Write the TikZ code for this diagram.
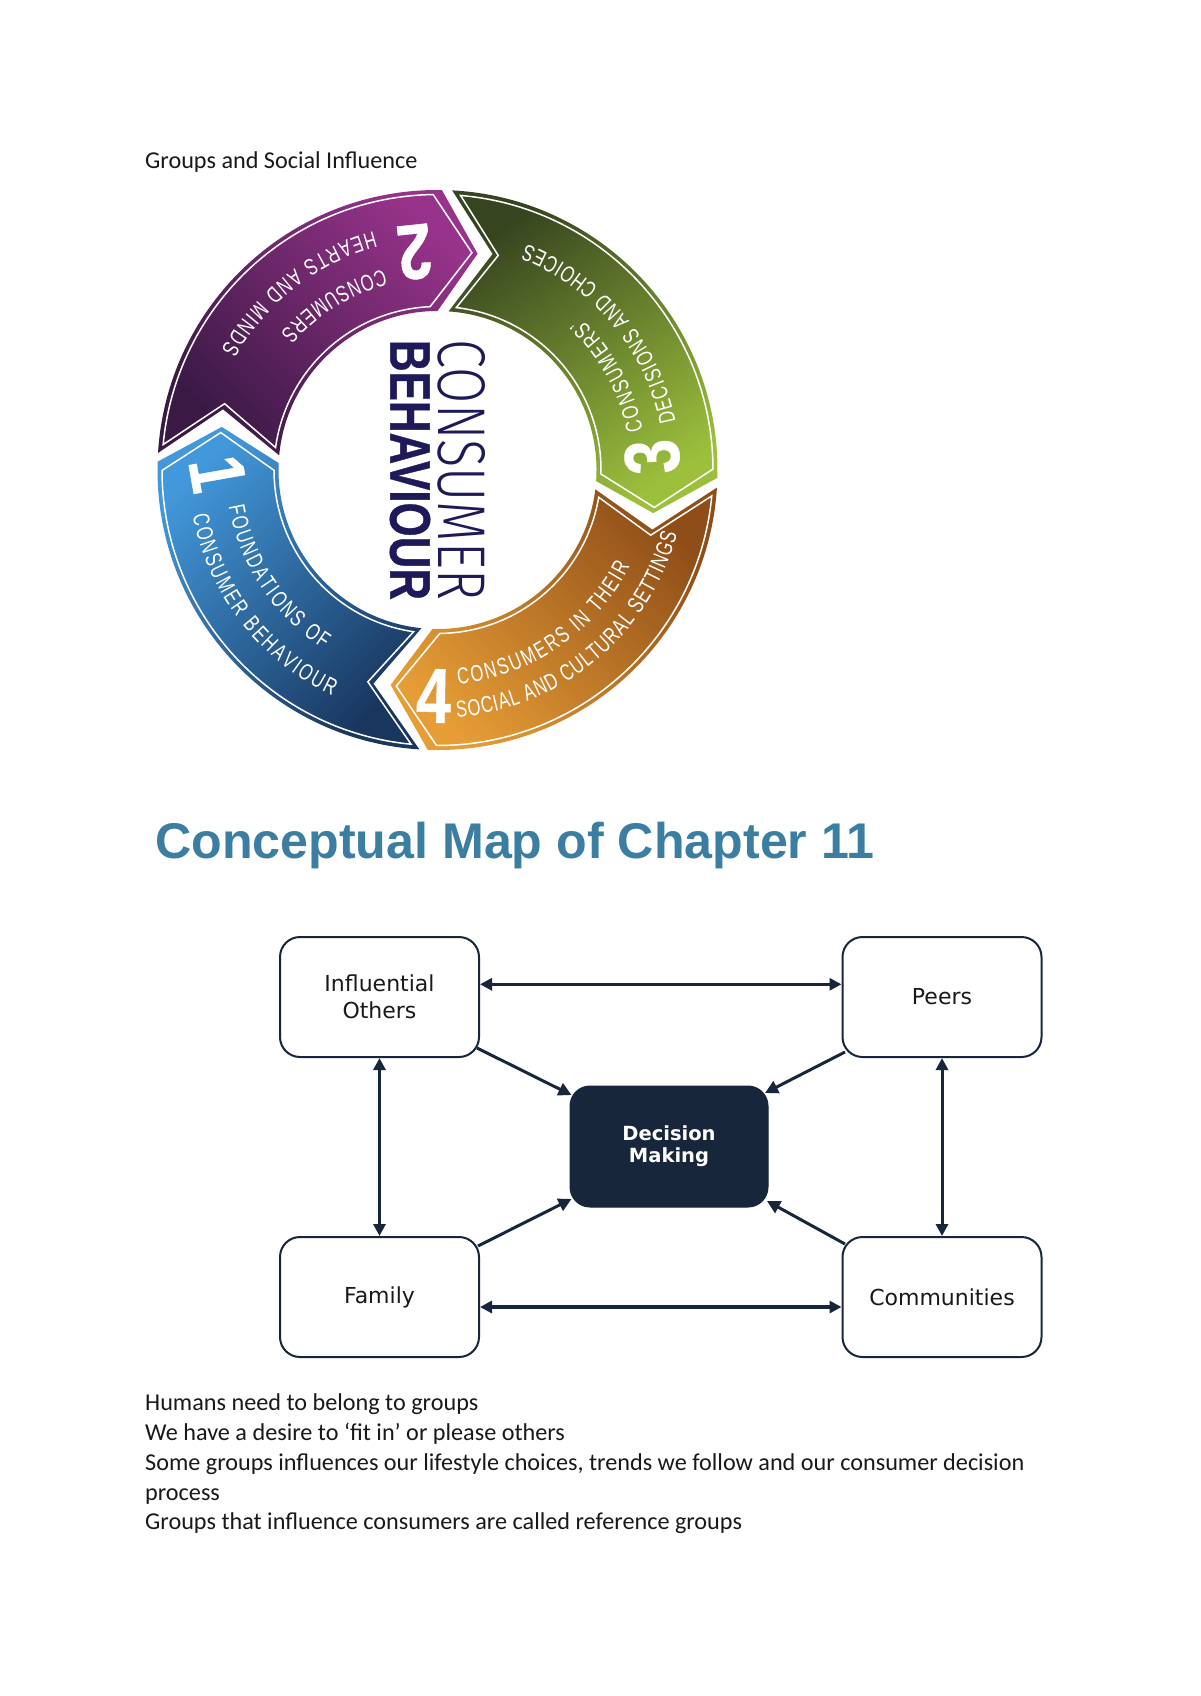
\documentclass[tikz,border=0pt]{standalone}
\usepackage{fontspec}
\usepackage{graphicx}
\usepackage{xcolor}
\usetikzlibrary{arrows.meta,decorations.text}
\setmainfont{Carlito}
\newfontfamily\dejavu{DejaVu Sans}
\newfontfamily\libsans{Liberation Sans}
\newfontfamily\condf[FakeStretch=0.72]{Liberation Sans}
\newfontfamily\condb[FakeStretch=0.8,FakeBold=0.6]{Liberation Sans Bold}
\newfontfamily\heavyf[FakeBold=0.8]{Liberation Sans Bold}
\newfontfamily\thinf{Fira Sans Light}
\definecolor{navy}{HTML}{17263B}
\definecolor{titleblue}{HTML}{3B7EA1}
\definecolor{ringnavy}{HTML}{1E1A5A}
\definecolor{purpleA}{HTML}{3A1945}
\definecolor{purpleB}{HTML}{872D7D}
\definecolor{purpleC}{HTML}{97338A}
\definecolor{greenA}{HTML}{36441F}
\definecolor{greenB}{HTML}{6F9133}
\definecolor{greenC}{HTML}{9CC03C}
\definecolor{orangeA}{HTML}{E69D36}
\definecolor{orangeB}{HTML}{DE9030}
\definecolor{orangeC}{HTML}{8F4E18}
\definecolor{blueA}{HTML}{4298DA}
\definecolor{blueB}{HTML}{2F6EA3}
\definecolor{blueC}{HTML}{19365F}
\newcommand\ringfont{\condf\fontsize{23}{23}\selectfont}
\tikzset{
  ringline/.style={draw=white,line width=1.5pt,line join=miter},
  bodytext/.style={anchor=base west,inner sep=0pt,font=\fontsize{24.2}{28}\selectfont,text=black!90},
  mapbox/.style={draw=navy,line width=2pt,rounded corners=20pt,minimum width=199pt,minimum height=120pt,inner sep=0pt,align=center,font=\dejavu\fontsize{22}{27}\selectfont,text=black!90},
  mapcentre/.style={fill=navy,draw=navy,line width=1pt,rounded corners=20pt,minimum width=198pt,minimum height=120pt,inner sep=0pt,align=center,text=white,font=\dejavu\bfseries\fontsize{19.5}{22}\selectfont},
  duplex/.style={draw=navy,{Triangle[length=12pt,width=12pt]}-{Triangle[length=12pt,width=12pt]}},
  influx/.style={draw=navy,line width=3pt,-{Triangle[length=13pt,width=13pt]}},
  bignum/.style={text=white,inner sep=0pt,font=\condb\fontsize{78}{78}\selectfont}
}
% #1 shade options, #2 outer start, #3 outer end, #4 tip, #5 inner end, #6 inner start, #7 notch
\newcommand\ringseg[7]{%
  \shade[#1] (#2:280) arc[start angle=#2,end angle=#3,radius=280] -- (#4:220) -- (#5:159)
     arc[start angle=#5,end angle=#6,radius=159] -- (#7:223) -- cycle;
  \pgfmathsetmacro\oa{#2-1.8}\pgfmathsetmacro\ob{#3+1.8}\pgfmathsetmacro\ot{#4+1.5}
  \pgfmathsetmacro\oe{#5+2.6}\pgfmathsetmacro\os{#6-2.6}\pgfmathsetmacro\on{#7-1.5}
  \draw[ringline] (\oa:275.5) arc[start angle=\oa,end angle=\ob,radius=275.5] -- (\ot:220) -- (\oe:163.5)
     arc[start angle=\oe,end angle=\os,radius=163.5] -- (\on:223) -- cycle;
}
% #1 start angle, #2 end angle, #3 baseline radius, #4 text
\newcommand\ringtext[4]{%
  \path[decorate,decoration={text along path,text align={fit to path},text={|\ringfont\color{white}|#4}}]
     (#1:#3) arc[start angle=#1,end angle=#2,radius=#3];
}
\begin{document}
\begin{tikzpicture}[x=1pt,y=-1pt]
\useasboundingbox (0,0) rectangle (1200,1696);
\fill[white] (0,0) rectangle (1200,1696);

\node[bodytext] (head) at (145,169) {Groups and Social Influence};

\begin{scope}[shift={(437.5,470)},x=1pt,y=1pt]
  \ringseg{left color=purpleA,middle color=purpleB,right color=purpleC,shading angle=135}{176.5}{89.1}{79.5}{90}{174.7}{164.2}
  \ringseg{left color=greenA,middle color=greenB,right color=greenC,shading angle=35}{87}{-1.6}{-11.3}{-4}{86}{75.7}
  \ringseg{left color=orangeA,middle color=orangeB,right color=orangeC,shading angle=135}{-3.6}{-92}{-102.3}{-91.8}{-7}{-15.5}
  \ringseg{left color=blueA,middle color=blueB,right color=blueC,shading angle=45}{-93.7}{-181.7}{-191.3}{-182.5}{-95.8}{-106.7}

  \node[bignum,rotate=186] (n2) at (96:219) {2};
  \node[bignum,rotate=93.5] (n3) at (3.5:215) {3};
  \node[bignum,rotate=-1] (n4) at (-91:226) {4};
  \node[bignum,rotate=-80] (n1) at (181:220) {1};

  \ringtext{105}{139}{208}{CONSUMERS}
  \ringtext{105}{151}{247}{HEARTS AND MINDS}
  \ringtext{11}{47}{209}{CONSUMERS’}
  \ringtext{11.5}{68.5}{243}{DECISIONS AND CHOICES}
  \ringtext{-84.5}{-26.5}{215}{CONSUMERS IN THEIR}
  \ringtext{-85.5}{-15}{248}{SOCIAL AND CULTURAL SETTINGS}
  \ringtext{-170}{-122.5}{212}{FOUNDATIONS OF}
  \ringtext{-169.5}{-115}{249}{CONSUMER BEHAVIOUR}
\end{scope}

\node[rotate=-90,inner sep=0pt,text=ringnavy] (ct) at (461.2,470) {\resizebox{260pt}{47pt}{\thinf CONSUMER}};
\node[rotate=-90,inner sep=0pt,text=ringnavy] (bt) at (410,470) {\resizebox{260pt}{40pt}{\heavyf BEHAVIOUR}};

\node[anchor=base west,inner sep=0pt,text=titleblue] (title) at (155,858) {\resizebox{719pt}{!}{\libsans\bfseries Conceptual Map of Chapter 11}};

\node[mapbox] (infl) at (379.5,997) {Influential\\Others};
\node[mapbox] (peers) at (942,997) {Peers};
\node[mapbox] (family) at (379.5,1297) {Family};
\node[mapbox] (comm) at (942,1297) {Communities};
\node[mapcentre,minimum height=121pt] (dec) at (669,1146.5) {Decision\\Making};

\draw[duplex,line width=3.5pt] ([yshift=12.7pt]infl.east) -- ([yshift=12.7pt]peers.west);
\draw[duplex,line width=3.5pt] ([yshift=-10pt]family.east) -- ([yshift=-10pt]comm.west);
\draw[duplex,line width=3pt] (infl.south) -- (family.north);
\draw[duplex,line width=3pt] (peers.south) -- (comm.north);
\draw[influx] ([shift={(-3pt,10pt)}]infl.south east) -- ([shift={(2pt,-9.5pt)}]dec.north west);
\draw[influx] ([shift={(3.5pt,6pt)}]peers.south west) -- ([shift={(-3.5pt,-7.5pt)}]dec.north east);
\draw[influx] ([shift={(-2pt,-10pt)}]family.north east) -- ([shift={(2pt,8.5pt)}]dec.south west);
\draw[influx] ([shift={(3.5pt,-8pt)}]comm.north west) -- ([shift={(-1.5pt,6.5pt)}]dec.south east);

\node[bodytext] (l1) at (145,1410) {Humans need to belong to groups};
\node[bodytext] (l2) at (145,1440) {We have a desire to ‘fit in’ or please others};
\node[bodytext] (l3) at (145,1470) {Some groups influences our lifestyle choices, trends we follow and our consumer decision};
\node[bodytext] (l4) at (145,1500) {process};
\node[bodytext] (l5) at (145,1529.5) {Groups that influence consumers are called reference groups};
\end{tikzpicture}
\end{document}
